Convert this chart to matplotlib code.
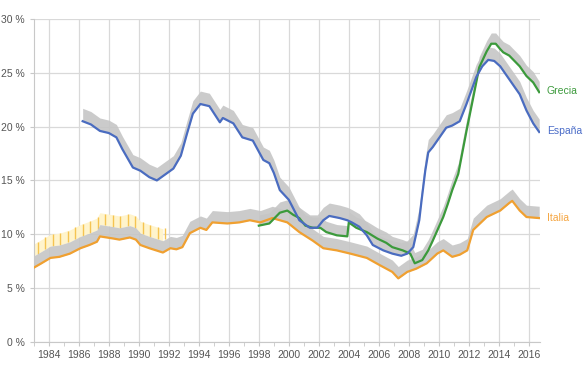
import numpy as np
import matplotlib
matplotlib.use("Agg")
import matplotlib.pyplot as plt

plt.rcParams['font.family'] = ['Liberation Sans Narrow', 'Liberation Sans', 'DejaVu Sans']

# Unemployment rate (%)
spainYears = [1986.25, 1986.8, 1987.4, 1988.0, 1988.5, 1988.9, 1989.6, 1990.1, 1990.7, 1991.2,
              1991.9, 1992.3, 1992.8, 1993.2, 1993.6, 1994.1, 1994.7, 1995.4, 1995.6, 1996.3,
              1996.9, 1997.6, 1998.3, 1998.7, 1999.0, 1999.4, 2000.0, 2000.7, 2001.4, 2001.9,
              2002.3, 2002.7, 2003.4, 2003.9, 2004.2, 2004.7, 2005.2, 2005.6, 2006.3, 2006.9,
              2007.5, 2007.9, 2008.3, 2008.7, 2008.85, 2009.1, 2009.3, 2009.6, 2010.5, 2010.9,
              2011.4, 2011.85, 2012.5, 2012.9, 2013.3, 2013.7, 2014.1, 2014.7, 2015.4, 2015.85,
              2016.3, 2016.7]
spainRate = [20.5, 20.2, 19.6, 19.4, 19.0, 17.9, 16.2, 15.9, 15.3, 15.0,
             15.7, 16.1, 17.3, 19.3, 21.2, 22.1, 21.9, 20.4, 20.8, 20.3,
             19.0, 18.7, 16.9, 16.6, 15.7, 14.1, 13.2, 11.3, 10.6, 10.6,
             11.3, 11.7, 11.5, 11.3, 11.1, 10.7, 9.9, 9.0, 8.5, 8.2,
             8.0, 8.2, 8.8, 11.3, 13.1, 15.9, 17.6, 18.1, 19.9, 20.1,
             20.5, 22.1, 24.6, 25.6, 26.2, 26.1, 25.6, 24.4, 23.0, 21.5,
             20.3, 19.5]

greeceYears = [1998.0, 1998.7, 1999.4, 1999.9, 2000.3, 2000.7, 2001.1, 2001.6, 2002.1, 2002.5,
               2003.2, 2003.9, 2004.0, 2004.5, 2005.2, 2005.9, 2006.5, 2006.9, 2007.6, 2008.1,
               2008.4, 2008.9, 2009.3, 2009.6, 2010.3, 2010.6, 2010.9, 2011.3, 2011.85, 2012.3,
               2012.7, 2013.2, 2013.5, 2013.8, 2014.1, 2014.3, 2014.7, 2015.4, 2015.85, 2016.3,
               2016.7]
greeceRate = [10.8, 11.0, 12.0, 12.2, 11.8, 11.5, 10.8, 10.6, 10.6, 10.2,
              9.9, 9.8, 11.1, 10.6, 10.2, 9.6, 9.2, 8.8, 8.5, 8.2,
              7.3, 7.6, 8.5, 9.4, 11.6, 12.8, 14.1, 15.6, 19.6, 22.7,
              25.5, 27.0, 27.7, 27.7, 27.2, 26.9, 26.6, 25.6, 24.7, 24.1,
              23.2]

italyYears = [1983.0, 1983.5, 1984.1, 1984.7, 1985.4, 1986.1, 1986.7, 1987.2, 1987.4, 1988.3,
              1988.7, 1989.4, 1989.8, 1990.1, 1990.7, 1991.6, 1992.1, 1992.5, 1992.9, 1993.4,
              1994.1, 1994.5, 1994.9, 1995.9, 1996.7, 1997.4, 1998.1, 1998.9, 1999.9, 2000.7,
              2001.6, 2002.3, 2003.2, 2004.1, 2005.2, 2006.1, 2006.9, 2007.3, 2007.9, 2008.5,
              2009.2, 2009.9, 2010.3, 2010.9, 2011.4, 2011.9, 2012.3, 2013.2, 2014.1, 2014.7,
              2014.9, 2015.4, 2015.85, 2016.7]
italyRate = [6.9, 7.3, 7.8, 7.9, 8.2, 8.7, 9.0, 9.3, 9.8, 9.6,
             9.5, 9.7, 9.5, 9.0, 8.7, 8.3, 8.7, 8.6, 8.8, 10.1,
             10.6, 10.4, 11.1, 11.0, 11.1, 11.3, 11.1, 11.5, 11.1, 10.2,
             9.4, 8.7, 8.5, 8.2, 7.8, 7.1, 6.5, 5.9, 6.5, 6.8,
             7.3, 8.2, 8.5, 7.9, 8.1, 8.5, 10.4, 11.6, 12.2, 12.9,
             13.1, 12.2, 11.6, 11.5]

# width of the grey band above each series, and of Italy's old-series band
bandWidth = {"España": 1.2, "Grecia": 1.0, "Italia": 1.1}
italyOldEnd = 1992.0
italyOldWidth = 1.1

countries = ["Grecia", "España", "Italia"]
years = {"España": spainYears, "Grecia": greeceYears, "Italia": italyYears}
rates = {"España": spainRate, "Grecia": greeceRate, "Italia": italyRate}
colors = {"España": "#4a6cc0", "Grecia": "#3b9a3b", "Italia": "#f0a030"}
labelColors = {"España": "#4a6cc8", "Grecia": "#3c9a3c", "Italia": "#f5a540"}

fig = plt.figure(figsize=(5.85, 3.72), dpi=100)
ax = fig.add_axes([0.058, 0.081, 0.865, 0.868])

# Italy old series band (yellow with vertical strokes)
x = np.array(italyYears)
y = np.array(italyRate)
old = x <= italyOldEnd + 0.01
low = y[old] + bandWidth["Italia"]
ax.fill_between(x[old], low, low + italyOldWidth, color="#fff4cc", lw=0, zorder=1)
strokeX = np.arange(1983.25, italyOldEnd, 0.5)
strokeLow = np.interp(strokeX, x, y) + bandWidth["Italia"]
ax.vlines(strokeX, strokeLow, strokeLow + italyOldWidth, color="#f5c451", lw=1.0, zorder=1)

# grey bands
for c in countries:
    cx = np.array(years[c])
    cy = np.array(rates[c])
    ax.fill_between(cx, cy, cy + bandWidth[c], color="#c6c6c6", lw=0, alpha=0.9, zorder=2)

# lines
for c in ["Italia", "Grecia", "España"]:
    ax.plot(years[c], rates[c], color=colors[c], lw=1.6, zorder=3)

# labels on the right
for c in countries:
    ax.text(2017.2, rates[c][-1] + (0.1 if c != "Italia" else 0.0), c, color=labelColors[c],
            fontsize=7.5, va="center", ha="left", clip_on=False)

ax.set_xlim(1983.0, 2016.75)
ax.set_ylim(0, 30)
ax.set_xticks(np.arange(1984, 2017, 2))
ax.set_xticks(np.arange(1983, 2017, 2), minor=True)
ax.set_yticks(np.arange(0, 31, 5))
ax.set_yticklabels([str(v) + " %" for v in range(0, 31, 5)])

ax.grid(True, which="major", color="#d9d9d9", lw=0.9)
ax.set_axisbelow(True)
for side in ["top", "right"]:
    ax.spines[side].set_visible(False)
for side in ["left", "bottom"]:
    ax.spines[side].set_color("#c8c8c8")
ax.tick_params(axis="both", which="major", labelsize=7.5, colors="#c8c8c8", labelcolor="#555555", length=3)
ax.tick_params(axis="x", which="minor", colors="#c8c8c8", length=3)
ax.tick_params(axis="x", pad=3)

fig.savefig("out.png", dpi=100)
